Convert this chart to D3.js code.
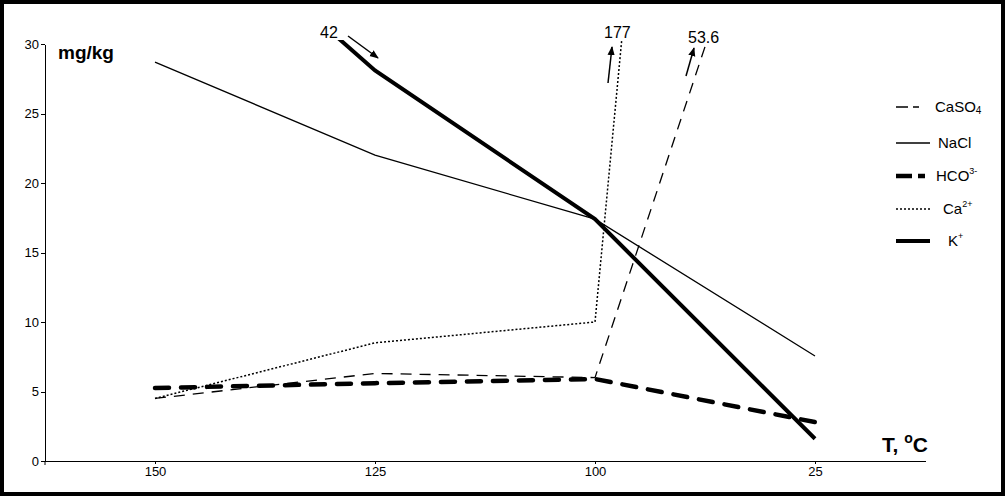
<!DOCTYPE html>
<meta charset="utf-8">
<head>
    <title>Solubility vs temperature</title>
    <meta charset="utf-8">
</head>
<style>
    body {
        margin: 0;
        background-color: #ffffff;
        font-family: "Liberation Sans", Arial, sans-serif;
    }
    .axis path,
    .axis line {
        fill: none;
        stroke: #000;
        stroke-width: 1px;
        shape-rendering: crispEdges;
    }
    .axis text {
        font-family: "Liberation Sans", Arial, sans-serif;
        font-size: 13px;
        fill: #000;
    }
    .series {
        fill: none;
        stroke: #000;
    }
</style>
<body>
<svg width="1005" height="497"></svg>
<script src="https://d3js.org/d3.v7.min.js"></script>
<script>
    // temperature categories (x), values in mg/kg
    var temps = ["150", "125", "100", "25"];
    var yTicks = [0, 5, 10, 15, 20, 25, 30];

    var caso4 = [4.5, 6.3, 6.0, 53.6];
    var nacl = [28.7, 22.0, 17.4, 7.55];
    var hco3 = [5.25, 5.6, 5.9, 2.8];
    var ca = [4.5, 8.5, 10.0, 177];
    var kplus = [42, 28.1, 17.4, 1.6];

    var seriesNames = ["CaSO4", "NaCl", "HCO3", "Ca2", "K"];

    var svg = d3.select("svg"),
        margin = {top: 44, right: 80, bottom: 36, left: 45},
        width = +svg.attr("width") - margin.left - margin.right,
        height = +svg.attr("height") - margin.top - margin.bottom;

    // outer frame
    svg.append("rect")
        .attr("x", 2).attr("y", 2)
        .attr("width", 1001).attr("height", 492)
        .attr("fill", "none")
        .attr("stroke", "#000")
        .attr("stroke-width", 4);

    var x = d3.scalePoint().domain(temps).range([0, width]).padding(0.5);
    var y = d3.scaleLinear().domain([0, 30]).range([height, 0]);

    var g = svg.append("g")
        .attr("transform", "translate(" + margin.left + "," + margin.top + ")");

    g.append("defs").append("clipPath").attr("id", "clip")
        .append("rect")
        .attr("x", 0).attr("y", -4)
        .attr("width", width).attr("height", height + 8);

    g.append("g")
        .attr("class", "x axis")
        .attr("transform", "translate(0," + height + ")")
        .call(d3.axisBottom(x).tickSizeInner(3).tickSizeOuter(0).tickPadding(3));

    g.append("g")
        .attr("class", "y axis")
        .call(d3.axisLeft(y).tickValues(yTicks).tickSizeInner(4).tickSizeOuter(0).tickPadding(2));

    // y axis runs a little under the zero line
    g.append("line")
        .attr("x1", 0).attr("x2", 0)
        .attr("y1", height).attr("y2", height + 4)
        .attr("stroke", "#000");

    g.append("text")
        .attr("x", 13).attr("y", 15)
        .style("font-weight", "bold")
        .style("font-size", "19px")
        .text("mg/kg");

    g.append("text")
        .attr("x", width - 43).attr("y", height - 9)
        .style("font-weight", "bold")
        .style("font-size", "21px")
        .html("T, <tspan dy='-9' font-size='14'>o</tspan><tspan dy='9'>C</tspan>");

    var line = d3.line()
        .x(function(d, i) { return x(temps[i]); })
        .y(function(d) { return y(d); });

    var styles = {
        CaSO4: {data: caso4, w: 1.3, dash: "11,8", cap: "butt"},
        NaCl: {data: nacl, w: 1.3, dash: null, cap: "butt"},
        HCO3: {data: hco3, w: 4.5, dash: "14,12", cap: "round"},
        Ca2: {data: ca, w: 1.5, dash: "2,2", cap: "butt"},
        K: {data: kplus, w: 4, dash: null, cap: "butt"}
    };

    var plot = g.append("g").attr("clip-path", "url(#clip)");

    seriesNames.forEach(function(name) {
        var s = styles[name];
        plot.append("path")
            .datum(s.data)
            .attr("class", "series")
            .attr("stroke-width", s.w)
            .attr("stroke-dasharray", s.dash)
            .attr("stroke-linecap", s.cap)
            .attr("d", line);
    });

    // off-scale annotations
    svg.append("defs").append("marker")
        .attr("id", "arrow")
        .attr("viewBox", "0 0 10 10")
        .attr("refX", 9).attr("refY", 5)
        .attr("markerWidth", 9).attr("markerHeight", 9)
        .attr("markerUnits", "userSpaceOnUse")
        .attr("orient", "auto")
        .append("path")
        .attr("d", "M0,1 L10,5 L0,9 Z")
        .attr("fill", "#000");

    var notes = [
        {text: "42", tx: 320, ty: 38, a: [348, 36, 378, 58]},
        {text: "177", tx: 604, ty: 38, a: [608, 83, 612, 47]},
        {text: "53.6", tx: 688, ty: 43, a: [686, 76, 694, 48]}
    ];

    notes.forEach(function(n) {
        svg.append("text")
            .attr("x", n.tx).attr("y", n.ty)
            .style("font-size", "16px")
            .text(n.text);
        svg.append("line")
            .attr("x1", n.a[0]).attr("y1", n.a[1])
            .attr("x2", n.a[2]).attr("y2", n.a[3])
            .attr("stroke", "#000")
            .attr("stroke-width", 1.5)
            .attr("marker-end", "url(#arrow)");
    });

    // legend
    var legendLabels = [
        "CaSO<tspan font-size='10' dy='2'>4</tspan>",
        "NaCl",
        "HCO<tspan font-size='9' dy='-7'>3-</tspan>",
        "Ca<tspan font-size='9' dy='-7'>2+</tspan>",
        "K<tspan font-size='9' dy='-7'>+</tspan>"
    ];
    var legendY = [107, 143, 176, 209, 241];

    var legend = svg.append("g");
    seriesNames.forEach(function(name, i) {
        var s = styles[name];
        legend.append("line")
            .attr("x1", 896).attr("x2", 930)
            .attr("y1", legendY[i]).attr("y2", legendY[i])
            .attr("stroke", "#000")
            .attr("stroke-width", s.w)
            .attr("stroke-dasharray", name === "CaSO4" ? "12,5,6,20" : name === "HCO3" ? "16,6,7,20" : s.dash)
            .attr("stroke-linecap", "butt");
        legend.append("text")
            .attr("x", [935, 938, 936, 943, 948][i])
            .attr("y", legendY[i] + 5)
            .style("font-size", "15px")
            .html(legendLabels[i]);
    });
</script>
</body>
